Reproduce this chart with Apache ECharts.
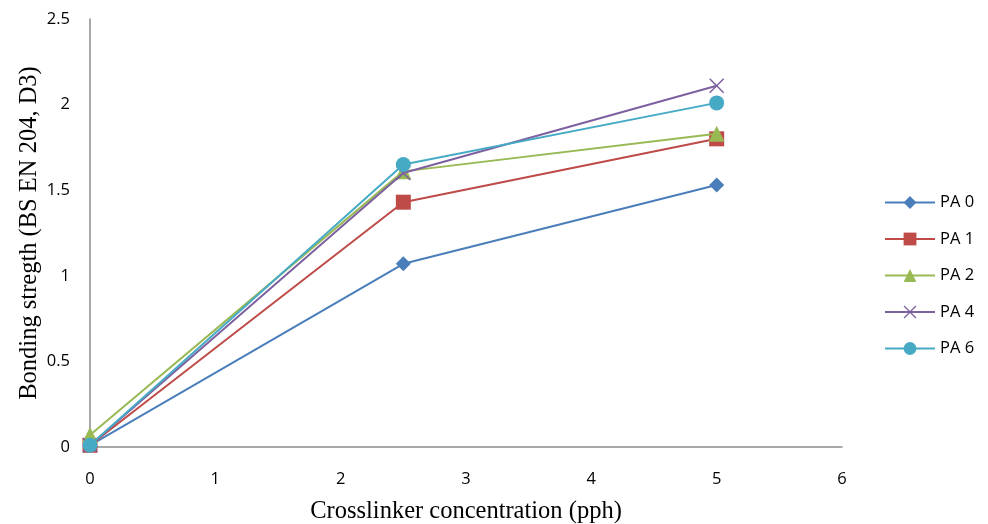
<!DOCTYPE html>
<html><head><meta charset="utf-8">
<script src="https://cdn.jsdelivr.net/npm/echarts@6/dist/echarts.min.js"></script>
<style>html,body{margin:0;padding:0;background:#fff}#c{width:988px;height:524px}</style>
</head><body><div id="c"></div>
<script>
const xValues = [0, 2.5, 5];
const seriesNames = ['PA 0', 'PA 1', 'PA 2', 'PA 4', 'PA 6'];
const pa0 = [0.01, 1.07, 1.53];
const pa1 = [0.01, 1.43, 1.80];
const pa2 = [0.07, 1.61, 1.83];
const pa4 = [0.01, 1.60, 2.11];
const pa6 = [0.01, 1.65, 2.01];
const xTicks = [0, 1, 2, 3, 4, 5, 6];
const yTicks = [0, 0.5, 1, 1.5, 2, 2.5];

const colors = ['#4a7ebb', '#be4b48', '#98b954', '#7d60a0', '#46aac5'];
const crossPath = 'path://M0,0.7L0.7,0L5,4.3L9.3,0L10,0.7L5.7,5L10,9.3L9.3,10L5,5.7L0.7,10L0,9.3L4.3,5Z';
const symbols = ['diamond', 'rect', 'triangle', crossPath, 'circle'];
const sizes = [15, 15, 16, 15, 15];
const allData = [pa0, pa1, pa2, pa4, pa6];

const chart = echarts.init(document.getElementById('c'));
chart.setOption({
  animation: false,
  grid: {left: 90, right: 146, top: 19, bottom: 77, containLabel: false, outerBoundsMode: 'none'},
  legend: {
    orient: 'vertical', left: 879, top: 189, itemWidth: 50, itemHeight: 16, itemGap: 19.5,
    textStyle: {fontFamily: 'Open Sans', fontSize: 16.5, color: '#000'},
    data: seriesNames.map((n, i) => ({name: n, itemStyle: {color: colors[i]}}))
  },
  xAxis: {
    type: 'value', min: 0, max: 6, interval: 1,
    name: 'Crosslinker concentration (pph)', nameLocation: 'middle', nameGap: 52,
    nameMoveOverlap: false,
    nameTextStyle: {fontFamily: 'Liberation Serif', fontSize: 24.5, color: '#000'},
    axisLine: {show: true, lineStyle: {color: '#8c8c8c', width: 1.5}},
    axisTick: {show: false}, splitLine: {show: false},
    axisLabel: {margin: 24, fontFamily: 'Open Sans', fontSize: 16.5, color: '#000',
      formatter: v => xTicks.includes(v) ? String(v) : ''}
  },
  yAxis: {
    type: 'value', min: 0, max: 2.5, interval: 0.5,
    name: 'Bonding stregth (BS EN 204, D3)', nameLocation: 'middle', nameGap: 48,
    nameMoveOverlap: false,
    nameTextStyle: {fontFamily: 'Liberation Serif', fontSize: 24.5, color: '#000'},
    axisLine: {show: true, lineStyle: {color: '#8c8c8c', width: 1.5}},
    axisTick: {show: false}, splitLine: {show: false},
    axisLabel: {margin: 20, fontFamily: 'Open Sans', fontSize: 16.5, color: '#000',
      formatter: v => yTicks.includes(v) ? String(v) : ''}
  },
  series: seriesNames.map((n, i) => ({
    name: n, type: 'line',
    data: xValues.map((x, j) => [x, allData[i][j]]),
    symbol: symbols[i], symbolSize: sizes[i], showAllSymbol: true,
    lineStyle: {color: colors[i], width: 2},
    itemStyle: {color: colors[i], borderWidth: 0},
    z: 2 + i
  }))
});
</script></body></html>
